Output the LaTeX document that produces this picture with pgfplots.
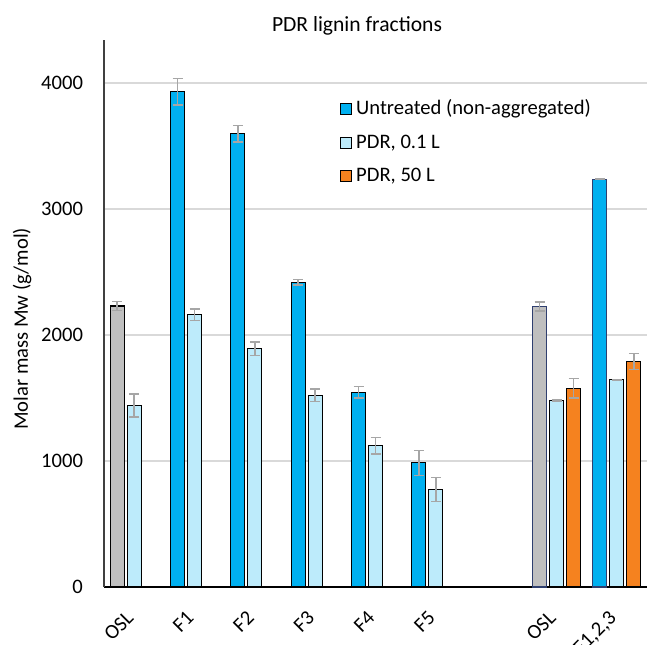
\documentclass[border=0pt]{standalone}
\usepackage{pgfplots}
\pgfplotsset{compat=1.18}
\usepackage{fontspec}
\setmainfont{Carlito}
\definecolor{cdark}{HTML}{00B0F0}
\definecolor{clight}{HTML}{BDEBFB}
\definecolor{corange}{HTML}{F5821F}
\definecolor{cgray}{HTML}{BFBFBF}
\definecolor{cerr}{HTML}{A6A6A6}
\definecolor{cgrid}{HTML}{D9D9D9}
\definecolor{cnavy}{HTML}{2F3F6F}
\begin{document}
\begin{tikzpicture}
\begin{axis}[
 scale only axis, width=271.5pt, height=273.5pt,
 xmin=-0.5, xmax=8.5, ymin=0, ymax=4340,
 axis x line*=bottom, axis y line*=left,
 axis line style={line width=0.75pt, -},
 x axis line style={black}, y axis line style={black!75},
 ytick={0,1000,2000,3000,4000},
 xtick={0,1,2,3,4,5,7,8},
 xticklabels={OSL,F1,F2,F3,F4,F5,OSL,{F1,2,3}},
 major tick length=0pt,
 ymajorgrids, grid style={cgrid, line width=0.8pt},
 /pgf/number format/assume math mode=true,
 /pgf/number format/set thousands separator={},
 tick label style={font=\fontsize{10.3}{12}\selectfont},
 yticklabel style={anchor=east, xshift=-7pt},
 xticklabel style={xshift=-4.5pt, yshift=-6.5pt, rotate=45, anchor=north east},
 ylabel={Molar mass Mw (g/mol)},
 ylabel style={at={(axis description cs:-0.151,0.472)}, anchor=center, font=\fontsize{10.3}{12}\selectfont},
 title={PDR lignin fractions},
 title style={at={(axis description cs:0.466,1)}, anchor=center, yshift=1pt, font=\fontsize{10.8}{12}\selectfont},
 ybar, bar width=7pt,
 legend style={at={(axis description cs:0.4346,0.899)}, anchor=north west, draw=none, fill=none, inner sep=0pt, row sep=4.5pt, font=\fontsize{10.3}{12}\selectfont},
 legend cell align=left,
 legend image code/.code={\draw[#1, draw=black, line width=0.4pt] (0pt,-2.75pt) rectangle (5.5pt,2.75pt);},
 error bars/y dir=both, error bars/y explicit,
 error bars/error bar style={cerr, line width=0.75pt},
 error bars/error mark options={cerr, rotate=90, mark size=2.5pt, line width=0.75pt},
]
% Untreated (non-aggregated), left group
\addplot[fill=cdark, draw=black, line width=0.6pt, bar shift=-8.5pt]
 table[x=x, y=y, y error=e] {
 x y e
 1 3930 105
 2 3595 65
 3 2418 22
 4 1545 45
 5 985 100
 };
\addlegendentry{Untreated (non-aggregated)}
% Untreated, right group
\addplot[forget plot, fill=cdark, draw=cnavy, line width=0.6pt, bar shift=-8.5pt]
 table[x=x, y=y, y error=e] {
 x y e
 8 3235 3
 };
% OSL (gray)
\addplot[forget plot, fill=cgray, draw=black, line width=0.6pt, bar shift=-8.5pt]
 table[x=x, y=y, y error=e] {
 x y e
 0 2230 35
 };
\addplot[forget plot, fill=cgray, draw=cnavy, line width=0.6pt, bar shift=-8.5pt]
 table[x=x, y=y, y error=e] {
 x y e
 7 2225 37
 };
% PDR, 0.1 L
\addplot[fill=clight, draw=black, line width=0.6pt, bar shift=0pt]
 table[x=x, y=y, y error=e] {
 x y e
 0 1440 90
 1 2160 45
 2 1890 55
 3 1520 50
 4 1120 65
 5 775 95
 7 1480 3
 8 1645 3
 };
\addlegendentry{PDR, 0.1 L}
% PDR, 50 L
\addplot[fill=corange, draw=black, line width=0.6pt, bar shift=8.5pt]
 table[x=x, y=y, y error=e] {
 x y e
 7 1577 78
 8 1790 63
 };
\addlegendentry{PDR, 50 L}
\end{axis}
\pgfresetboundingbox
\path[use as bounding box] ([xshift=-52pt,yshift=-28.5pt]current axis.south west) rectangle ([xshift=272pt,yshift=293.5pt]current axis.south west);
\end{tikzpicture}
\end{document}
